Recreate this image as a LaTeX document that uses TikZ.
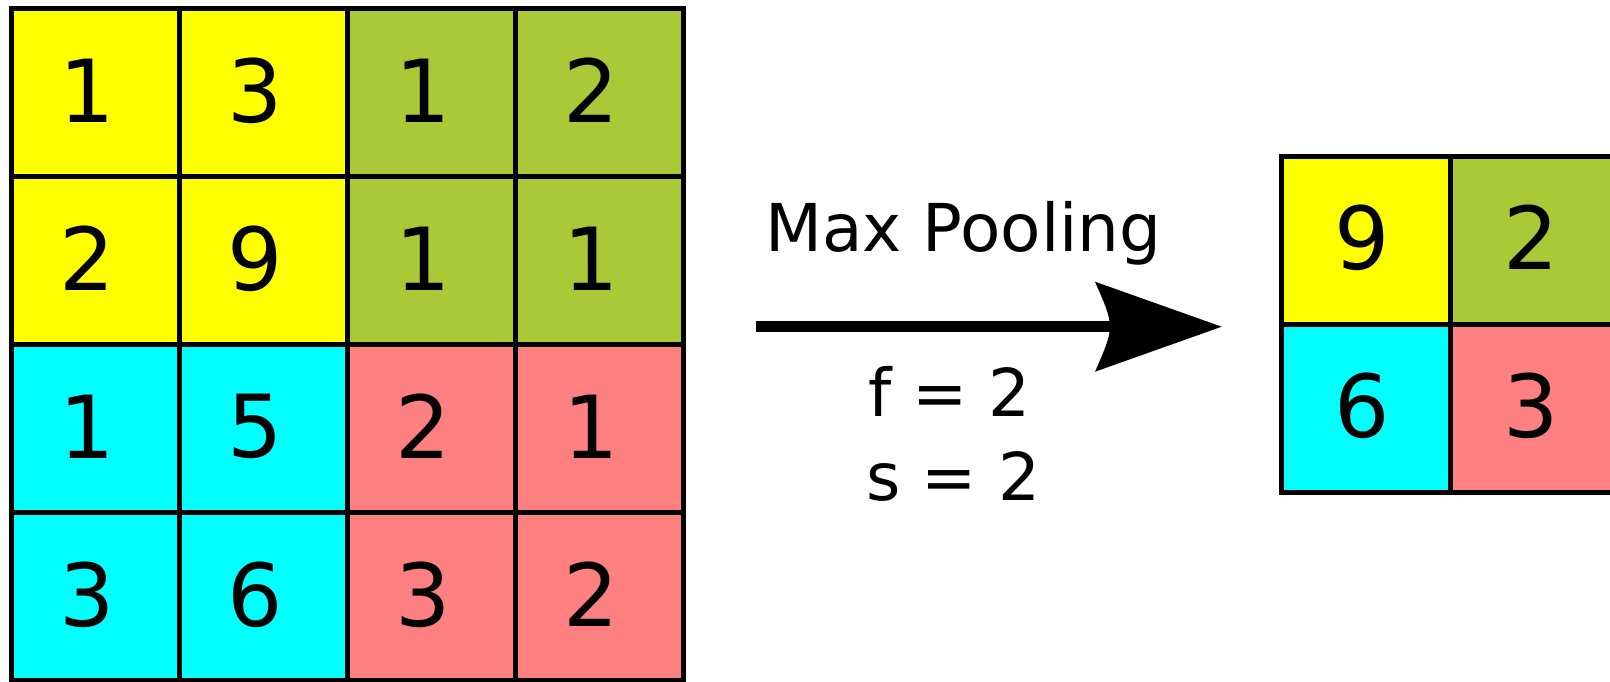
\documentclass[tikz,border=0pt]{standalone}
\usepackage{fontspec}
\setmainfont{DejaVu Sans}
\definecolor{cyel}{HTML}{FFFF00}
\definecolor{cgrn}{HTML}{ABC837}
\definecolor{ccyn}{HTML}{00FFFF}
\definecolor{cpnk}{HTML}{FF8080}
\begin{document}
\begin{tikzpicture}[x=1pt,y=-1pt,
  cell/.style={draw=black,line width=5.5pt,minimum width=168pt,minimum height=168pt,inner sep=0pt,outer sep=0pt},
  digit/.style={inner sep=0pt,font=\fontsize{87}{87}\selectfont},
  lbl/.style={inner sep=0pt,anchor=base west,font=\fontsize{66}{66}\selectfont}]
\clip (0,0) rectangle (1610,681);
\fill[white] (0,0) rectangle (1610,681);
% input 4x4 grid
\foreach \c/\r/\col/\v in {1/1/cyel/1, 2/1/cyel/3, 3/1/cgrn/1, 4/1/cgrn/2,
                          1/2/cyel/2, 2/2/cyel/9, 3/2/cgrn/1, 4/2/cgrn/1,
                          1/3/ccyn/1, 2/3/ccyn/5, 3/3/cpnk/2, 4/3/cpnk/1,
                          1/4/ccyn/3, 2/4/ccyn/6, 3/4/cpnk/3, 4/4/cpnk/2}{
  \node[cell,fill=\col] (in\r\c) at ({11.5+168*(\c-0.5)},{8.5+168*(\r-0.5)}) {};
  \node[digit] (din\r\c) at ([xshift=-8pt,yshift=2pt]in\r\c.center) {\v};
}
% output 2x2 grid
\foreach \c/\r/\col/\v in {1/1/cyel/9, 2/1/cgrn/2, 1/2/ccyn/6, 2/2/cpnk/3}{
  \node[cell,fill=\col,minimum width=169pt] (out\r\c) at ({1281.7+169*(\c-0.5)},{156.7+168*(\r-0.5)}) {};
  \node[digit] (dout\r\c) at ([xshift=-4pt,yshift=3pt]out\r\c.center) {\v};
}
% arrow
\coordinate (as) at (756,326.7);
\coordinate (at) at (1221.7,326.7);
\draw[line width=11pt] (as) -- ([xshift=-108pt]at);
\fill[line join=round] (at) -- ([shift={(-126.7,-45)}]at)
  .. controls ([shift={(-118.7,-26.7)}]at) and ([shift={(-111.7,-11.7)}]at) .. ([shift={(-111.7,0)}]at)
  .. controls ([shift={(-111.7,11.7)}]at) and ([shift={(-118.7,26.7)}]at) .. ([shift={(-126.7,45)}]at)
  -- cycle;
% labels
\node[lbl] (mp) at (765.2,251.7) {Max Pooling};
\node[lbl] (f) at (868.2,416.7) {f = 2};
\node[lbl] (s) at (866.3,500) {s = 2};
\end{tikzpicture}
\end{document}
